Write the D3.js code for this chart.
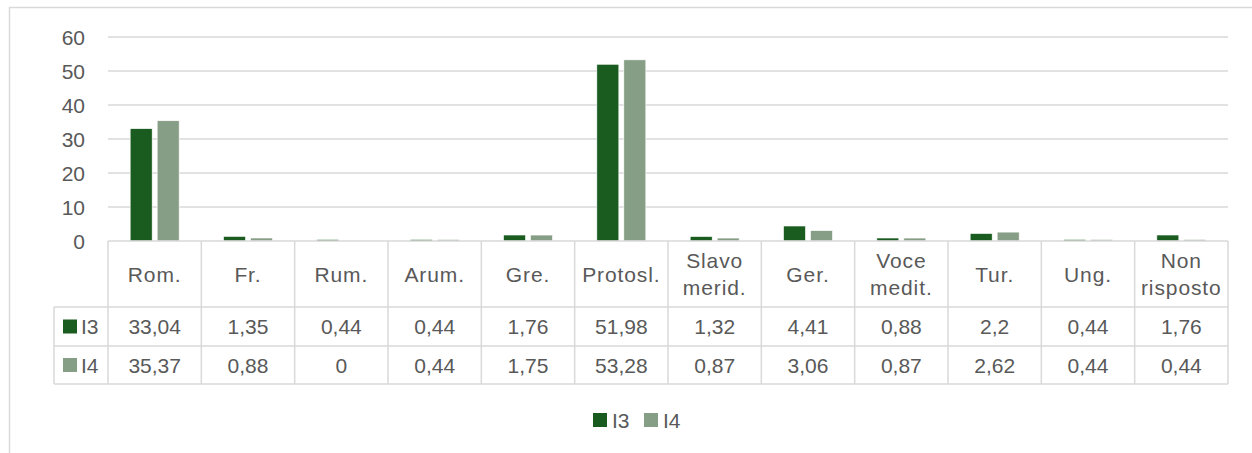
<!DOCTYPE html>
<html><head><meta charset="utf-8">
<script src="https://cdn.jsdelivr.net/npm/d3@7"></script>
<style>
html,body{margin:0;padding:0;background:#fff;}
svg{display:block;}
text{font-family:"Liberation Sans",Arial,sans-serif;fill:#595959;}
</style></head>
<body>
<svg id="chart" width="1252" height="453"></svg>
<script>
const categories = [["Rom."],["Fr."],["Rum."],["Arum."],["Gre."],["Protosl."],["Slavo","merid."],["Ger."],["Voce","medit."],["Tur."],["Ung."],["Non","risposto"]];
const seriesNames = ["I3","I4"];
const I3 = [33.04,1.35,0.44,0.44,1.76,51.98,1.32,4.41,0.88,2.2,0.44,1.76];
const I4 = [35.37,0.88,0,0.44,1.75,53.28,0.87,3.06,0.87,2.62,0.44,0.44];
const I3Labels = ["33,04","1,35","0,44","0,44","1,76","51,98","1,32","4,41","0,88","2,2","0,44","1,76"];
const I4Labels = ["35,37","0,88","0","0,44","1,75","53,28","0,87","3,06","0,87","2,62","0,44","0,44"];
const yTicks = [0,10,20,30,40,50,60];
const colors = ["#1a5c20","#879e86"];

const svg = d3.select("#chart");
const grid = "#d9d9d9";
const fs = 21;

// outer chart border (cropped at right/bottom)
svg.append("path").attr("d","M9.5,460 L9.5,7.5 L1260,7.5").attr("fill","none").attr("stroke",grid).attr("stroke-width",1.5);

const x0 = 108, x1 = 1228;
const y = d3.scaleLinear().domain([0,60]).range([241,37]);
const x = d3.scaleBand().domain(d3.range(categories.length)).range([x0,x1]).padding(0);
const bw = x.bandwidth();

// gridlines
svg.append("g").selectAll("line").data(yTicks.filter(d=>d>0)).join("line")
  .attr("x1",x0).attr("x2",x1).attr("y1",d=>y(d)).attr("y2",d=>y(d))
  .attr("stroke",grid).attr("stroke-width",1.5);

// y axis labels
svg.append("g").selectAll("text").data(yTicks).join("text")
  .attr("x",85).attr("y",d=>y(d)).attr("text-anchor","end").attr("dy","0.36em")
  .attr("font-size",fs).text(d=>d);

// bars
const sub = d3.scaleBand().domain(seriesNames).range([-24.5,24.5]).paddingInner(0.185);
const series = [I3,I4];
series.forEach((vals,si)=>{
  svg.append("g").selectAll("rect").data(vals).join("rect")
    .attr("x",(d,i)=>x(i)+bw/2+sub(seriesNames[si]))
    .attr("width",sub.bandwidth())
    .attr("y",d=>y(d)).attr("height",d=>y(0)-y(d))
    .attr("fill",colors[si]).attr("stroke","#fff").attr("stroke-width",0.6);
});

// data table
const tTop = 241, hBot = 307, r1Bot = 346, r2Bot = 384, legL = 54;
const tg = svg.append("g").attr("stroke",grid).attr("stroke-width",1.5);
tg.append("line").attr("x1",x0).attr("x2",x1).attr("y1",tTop).attr("y2",tTop);
[hBot,r1Bot,r2Bot].forEach(yy=>tg.append("line").attr("x1",legL).attr("x2",x1).attr("y1",yy).attr("y2",yy));
d3.range(categories.length+1).forEach(i=>{
  const xx = x0 + i*bw;
  tg.append("line").attr("x1",xx).attr("x2",xx).attr("y1",tTop).attr("y2",r2Bot);
});
tg.append("line").attr("x1",legL).attr("x2",legL).attr("y1",hBot).attr("y2",r2Bot);

// header labels
const hMid = (tTop+hBot)/2;
categories.forEach((lines,i)=>{
  const cx = x(i)+bw/2;
  const lh = 27;
  lines.forEach((ln,j)=>{
    svg.append("text").attr("x",cx).attr("y",hMid + (j-(lines.length-1)/2)*lh)
      .attr("dy","0.36em").attr("text-anchor","middle").attr("font-size",fs)
      .attr("letter-spacing","0.9px").text(ln);
  });
});
// row values
[[I3Labels,(hBot+r1Bot)/2],[I4Labels,(r1Bot+r2Bot)/2]].forEach(([labs,cy])=>{
  labs.forEach((t,i)=>{
    svg.append("text").attr("x",x(i)+bw/2).attr("y",cy).attr("dy","0.36em")
      .attr("text-anchor","middle").attr("font-size",fs).text(t);
  });
});
// row legend keys
[(hBot+r1Bot)/2,(r1Bot+r2Bot)/2].forEach((cy,si)=>{
  svg.append("rect").attr("x",63).attr("y",cy-7).attr("width",14).attr("height",14).attr("fill",colors[si]);
  svg.append("text").attr("x",81).attr("y",cy).attr("dy","0.36em").attr("font-size",fs).text(seriesNames[si]);
});

// bottom legend
const legY = 420;
const legX = [593,644];
seriesNames.forEach((n,si)=>{
  svg.append("rect").attr("x",legX[si]).attr("y",legY-7).attr("width",14).attr("height",14).attr("fill",colors[si]);
  svg.append("text").attr("x",legX[si]+19).attr("y",legY).attr("dy","0.36em").attr("font-size",fs).text(n);
});
</script>
</body></html>
